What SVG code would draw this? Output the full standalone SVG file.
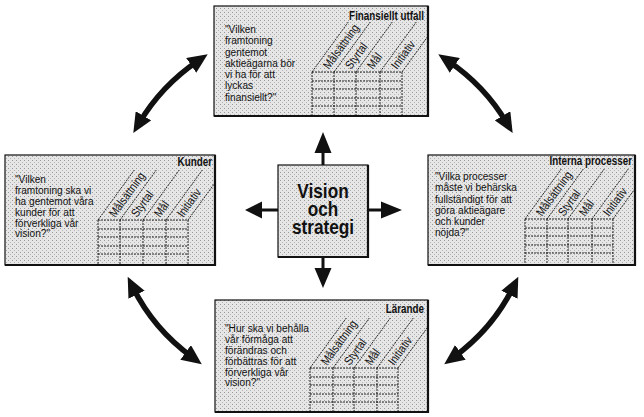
<svg xmlns="http://www.w3.org/2000/svg" width="644" height="417" viewBox="0 0 644 417">
<style>
.box{fill:url(#stip);stroke:#111;stroke-width:1.2}
.edge{fill:none;stroke:#111;stroke-width:2.2}
.title{font-family:"Liberation Sans",Arial,sans-serif;font-weight:bold;font-size:12px;fill:#111}
.q{font-family:"Liberation Sans",Arial,sans-serif;font-size:11px;fill:#111}
.hd{font-family:"Liberation Sans",Arial,sans-serif;font-size:12px;fill:#111}
.vis{font-family:"Liberation Sans",Arial,sans-serif;font-weight:bold;font-size:21px;fill:#111}
.grid{fill:none;stroke:#111;stroke-width:0.9;stroke-dasharray:2 1}
.arc{fill:none;stroke:#111;stroke-width:5.5}
.arr{fill:#111}
</style>
<defs>
<pattern id="stip" width="4" height="4" patternUnits="userSpaceOnUse">
<rect width="4" height="4" fill="#e6e6e6"/>
<rect x="0" y="0" width="1" height="1" fill="#999"/>
<rect x="2" y="2" width="1" height="1" fill="#b5b5b5"/>
</pattern>
<marker id="ah" viewBox="0 0 20 18" refX="8" refY="9" markerWidth="20" markerHeight="18" markerUnits="userSpaceOnUse" orient="auto-start-reverse">
<path d="M0,0 L20,9 L0,18 Z" fill="#111"/>
</marker>
<clipPath id="c1"><rect x="214" y="6" width="214" height="110"/></clipPath>
<clipPath id="c2"><rect x="5" y="155" width="210" height="110"/></clipPath>
<clipPath id="c3"><rect x="428" y="155" width="207" height="110"/></clipPath>
<clipPath id="c4"><rect x="215" y="300" width="213" height="112"/></clipPath>
</defs>
<rect width="644" height="417" fill="#fff"/>

<g id="connectors">
<path class="arc" d="M139.4,122.7 A208,188 0 0 1 197.8,60.9" marker-start="url(#ah)" marker-end="url(#ah)"/>
<path class="arc" d="M448.2,60.9 A208,188 0 0 1 506.6,122.7" marker-start="url(#ah)" marker-end="url(#ah)"/>
<path class="arc" d="M513,287.5 A208,188 0 0 1 453.9,357.1" marker-start="url(#ah)" marker-end="url(#ah)"/>
<path class="arc" d="M192.1,357.1 A208,188 0 0 1 133,287.5" marker-start="url(#ah)" marker-end="url(#ah)"/>
<path class="arr" d="M321.5,165 V153 H314.5 L323,132 L331.5,153 H324.5 V165 Z"/>
<path class="arr" d="M321.5,257 V268 H314.5 L323,288 L331.5,268 H324.5 V257 Z"/>
<path class="arr" d="M278,208.5 H262 V201.5 L245,210 L262,218.5 V211.5 H278 Z"/>
<path class="arr" d="M368,208.5 H381 V201.5 L402,210 L381,218.5 V211.5 H368 Z"/>
</g>

<g id="vision">
<rect class="box" x="278" y="165" width="90" height="92"/>
<polyline class="edge" points="368,165 368,257 278,257"/>
<text class="vis" text-anchor="middle" transform="translate(323,198) scale(0.82,1)">Vision</text>
<text class="vis" text-anchor="middle" transform="translate(323,216) scale(0.82,1)">och</text>
<text class="vis" text-anchor="middle" transform="translate(323,234) scale(0.82,1)">strategi</text>
</g>

<g id="finansiellt">
<rect class="box" x="214" y="6" width="214" height="110"/>
<polyline class="edge" points="428,6 428,116 214,116"/>
<text class="title" text-anchor="end" transform="translate(424,20) scale(0.82,1)">Finansiellt utfall</text>
<text class="q" transform="translate(225,33) scale(0.92,1)"><tspan x="0" y="0">"Vilken</tspan><tspan x="0" y="11.3">framtoning</tspan><tspan x="0" y="22.6">gentemot</tspan><tspan x="0" y="33.9">aktieägarna bör</tspan><tspan x="0" y="45.2">vi ha för att</tspan><tspan x="0" y="56.5">lyckas</tspan><tspan x="0" y="67.8">finansiellt?"</tspan></text>
<g class="grid" clip-path="url(#c1)">
<path d="M312,72H402M312,81H402M312,89H402M312,98H402M312,106H402"/>
<path d="M312,72V116M334,72V116M356,72V116M380,72V116M402,72V116"/>
<path d="M312,72l36.3,-50M334,72l36.3,-50M356,72l36.3,-50M380,72l36.3,-50M402,72l36.3,-50"/>
</g>
<text class="hd" transform="translate(329,70) rotate(-54) scale(0.85,1)">Målsättning</text>
<text class="hd" transform="translate(351,70) rotate(-54) scale(0.85,1)">Styrtal</text>
<text class="hd" transform="translate(373,70) rotate(-54) scale(0.85,1)">Mål</text>
<text class="hd" transform="translate(397,70) rotate(-54) scale(0.85,1)">Initiativ</text>
</g>

<g id="kunder">
<rect class="box" x="5" y="155" width="210" height="110"/>
<polyline class="edge" points="215,155 215,265 5,265"/>
<text class="title" text-anchor="end" transform="translate(212,166) scale(0.82,1)">Kunder</text>
<text class="q" transform="translate(15,183) scale(0.92,1)"><tspan x="0" y="0">"Vilken</tspan><tspan x="0" y="10.9">framtoning ska vi</tspan><tspan x="0" y="21.8">ha gentemot våra</tspan><tspan x="0" y="32.7">kunder för att</tspan><tspan x="0" y="43.6">förverkliga vår</tspan><tspan x="0" y="54.5">vision?"</tspan></text>
<g class="grid" clip-path="url(#c2)">
<path d="M98,220H188M98,229H188M98,237H188M98,246H188M98,254H188"/>
<path d="M98,220V265M120,220V265M143,220V265M166,220V265M188,220V265"/>
<path d="M98,220l36.3,-50M120,220l36.3,-50M143,220l36.3,-50M166,220l36.3,-50M188,220l36.3,-50"/>
</g>
<text class="hd" transform="translate(115,218) rotate(-54) scale(0.85,1)">Målsättning</text>
<text class="hd" transform="translate(137,218) rotate(-54) scale(0.85,1)">Styrtal</text>
<text class="hd" transform="translate(160,218) rotate(-54) scale(0.85,1)">Mål</text>
<text class="hd" transform="translate(183,218) rotate(-54) scale(0.85,1)">Initiativ</text>
</g>

<g id="interna">
<rect class="box" x="428" y="155" width="207" height="110"/>
<polyline class="edge" points="635,155 635,265 428,265"/>
<text class="title" text-anchor="end" transform="translate(632,165) scale(0.82,1)">Interna processer</text>
<text class="q" transform="translate(435,180) scale(0.92,1)"><tspan x="0" y="0">"Vilka processer</tspan><tspan x="0" y="11.3">måste vi behärska</tspan><tspan x="0" y="22.6">fullständigt för att</tspan><tspan x="0" y="33.9">göra aktieägare</tspan><tspan x="0" y="45.2">och kunder</tspan><tspan x="0" y="56.5">nöjda?"</tspan></text>
<g class="grid" clip-path="url(#c3)">
<path d="M525,219H613M525,228H613M525,236H613M525,245H613M525,253H613"/>
<path d="M525,219V265M547,219V265M568,219V265M592,219V265M613,219V265"/>
<path d="M525,219l36.3,-50M547,219l36.3,-50M568,219l36.3,-50M592,219l36.3,-50M613,219l36.3,-50"/>
</g>
<text class="hd" transform="translate(542,217) rotate(-54) scale(0.85,1)">Målsättning</text>
<text class="hd" transform="translate(564,217) rotate(-54) scale(0.85,1)">Styrtal</text>
<text class="hd" transform="translate(585,217) rotate(-54) scale(0.85,1)">Mål</text>
<text class="hd" transform="translate(609,217) rotate(-54) scale(0.85,1)">Initiativ</text>
</g>

<g id="larande">
<rect class="box" x="215" y="300" width="213" height="112"/>
<polyline class="edge" points="428,300 428,412 215,412"/>
<text class="title" text-anchor="end" transform="translate(424,313) scale(0.82,1)">Lärande</text>
<text class="q" transform="translate(225,332) scale(0.92,1)"><tspan x="0" y="0">"Hur ska vi behålla</tspan><tspan x="0" y="10.9">vår förmåga att</tspan><tspan x="0" y="21.8">förändras och</tspan><tspan x="0" y="32.7">förbättras för att</tspan><tspan x="0" y="43.6">förverkliga vår</tspan><tspan x="0" y="54.5">vision?"</tspan></text>
<g class="grid" clip-path="url(#c4)">
<path d="M310,368H398M310,377H398M310,385H398M310,394H398M310,402H398"/>
<path d="M310,368V412M333,368V412M354,368V412M377,368V412M398,368V412"/>
<path d="M310,368l36.3,-50M333,368l36.3,-50M354,368l36.3,-50M377,368l36.3,-50M398,368l36.3,-50"/>
</g>
<text class="hd" transform="translate(327,366) rotate(-54) scale(0.85,1)">Målsättning</text>
<text class="hd" transform="translate(350,366) rotate(-54) scale(0.85,1)">Styrtal</text>
<text class="hd" transform="translate(371,366) rotate(-54) scale(0.85,1)">Mål</text>
<text class="hd" transform="translate(394,366) rotate(-54) scale(0.85,1)">Initiativ</text>
</g>
</svg>
